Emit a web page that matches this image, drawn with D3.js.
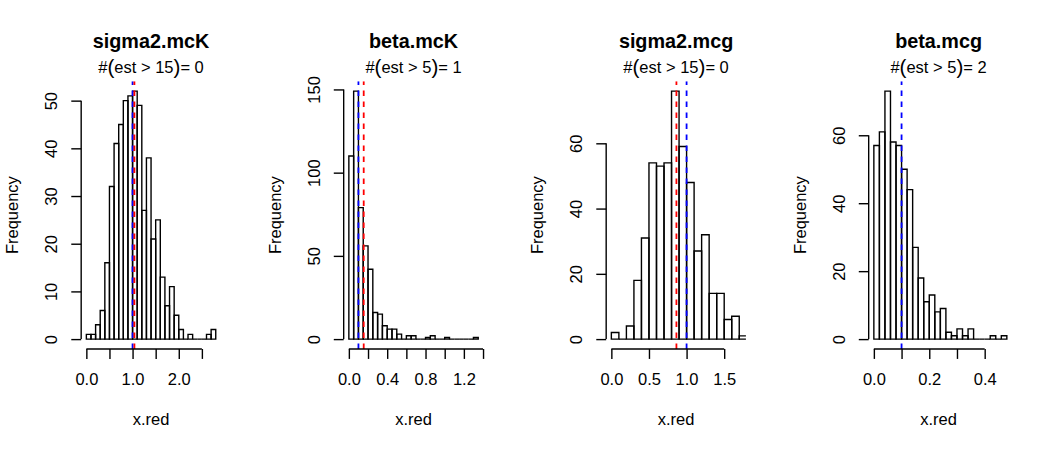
<!DOCTYPE html>
<html>
<head>
<meta charset="utf-8">
<script src="https://cdn.jsdelivr.net/npm/d3@7"></script>
<style>
  body { margin: 0; background: #fff; }
  svg { display: block; font-family: "Liberation Sans", Arial, Helvetica, sans-serif; }
</style>
</head>
<body>
<svg id="chart" width="1050" height="450"></svg>
<script>
// histogram panels, left to right
const panelTitles = ["sigma2.mcK", "beta.mcK", "sigma2.mcg", "beta.mcg"];
const thresholds = [15, 5, 15, 5];
const overCounts = [0, 1, 0, 2];

// bin layout (histogram breaks start + width)
const binStarts = [0, 0, 0, 0];
const binWidths = [0.1, 0.05, 0.1, 0.02];

const countsSigmaK = [1, 1, 3, 6, 16, 32, 41, 45, 50, 51, 52, 49, 27, 38, 21, 25, 13, 7, 11, 5, 2, 0, 1, 0, 0, 0, 1, 2];
const countsBetaK = [110, 149, 79, 56, 42, 16, 15, 8, 6, 6, 3, 0, 2, 2, 0, 0, 1, 2, 0, 0, 1, 0, 0, 0, 0, 0, 1];
const countsSigmaG = [2, 0, 4, 18, 31, 54, 53, 54, 76, 59, 48, 27, 32, 14, 14, 6, 7, 1];
const countsBetaG = [57, 61, 73, 58, 57, 50, 44, 27, 18, 11, 13, 8, 9, 2, 1, 3, 1, 3, 0, 0, 0, 1, 0, 1];
const allCounts = [countsSigmaK, countsBetaK, countsSigmaG, countsBetaG];

const xLimits = [[0, 2.8], [0, 1.35], [0, 1.72], [0, 0.467]];
const xTicks = [
  [0, 0.5, 1, 1.5, 2, 2.5],
  [0, 0.2, 0.4, 0.6, 0.8, 1.0, 1.2, 1.4],
  [0, 0.5, 1, 1.5],
  [0, 0.1, 0.2, 0.3, 0.4]
];
const xTickLabels = [
  ["0.0", "", "1.0", "", "2.0", ""],
  ["0.0", "", "0.4", "", "0.8", "", "1.2", ""],
  ["0.0", "0.5", "1.0", "1.5"],
  ["0.0", "", "0.2", "", "0.4"]
];
const yTicks = [
  [0, 10, 20, 30, 40, 50],
  [0, 50, 100, 150],
  [0, 20, 40, 60],
  [0, 20, 40, 60]
];

// reference lines: blue = true value, red = mean estimate
const trueValues = [1.0, 0.1, 1.0, 0.1];
const meanEstimates = [1.04, 0.155, 0.865, null];

const W = 1050, H = 450;
const panelW = W / 4;
const lh = 19.8;              // one margin line in px
const fs = 16.5;              // base font size
const m = { top: 4.1 * lh, right: 2.1 * lh, bottom: 5.1 * lh, left: 4.1 * lh };
const tickLen = 0.5 * lh;

const svg = d3.select("#chart");

panelTitles.forEach((title, i) => {
  const g = svg.append("g").attr("transform", `translate(${i * panelW},0)`);
  const left = m.left, right = panelW - m.right;
  const top = m.top, bottom = H - m.bottom;
  const cx = (left + right) / 2;

  const [lo, hi] = xLimits[i];
  const x = d3.scaleLinear()
    .domain([lo - 0.04 * (hi - lo), hi + 0.04 * (hi - lo)])
    .range([left, right]);
  const counts = allCounts[i];
  const ymax = d3.max(counts);
  const y = d3.scaleLinear()
    .domain([-0.04 * ymax, ymax * 1.04])
    .range([bottom, top]);

  const clipId = "clip" + i;
  g.append("clipPath").attr("id", clipId)
    .append("rect")
    .attr("x", left).attr("y", top)
    .attr("width", right - left).attr("height", bottom - top);

  const plot = g.append("g").attr("clip-path", `url(#${clipId})`);

  // bars (paths so zero-count bins still show the base line)
  plot.selectAll("path.bar")
    .data(counts)
    .enter().append("path")
    .attr("class", "bar")
    .attr("d", (c, k) => {
      const x0 = x(binStarts[i] + k * binWidths[i]);
      const x1 = x(binStarts[i] + (k + 1) * binWidths[i]);
      return `M${x0},${y(0)}H${x1}V${y(c)}H${x0}Z`;
    })
    .attr("fill", "none")
    .attr("stroke", "#000")
    .attr("stroke-width", 1.4);

  // dashed reference lines
  const lines = [];
  if (meanEstimates[i] !== null) lines.push({ v: meanEstimates[i], col: "#ff0000" });
  lines.push({ v: trueValues[i], col: "#0000ff" });
  if (i === 0) lines.reverse();
  plot.selectAll("line.ref")
    .data(lines)
    .enter().append("line")
    .attr("class", "ref")
    .attr("x1", d => x(d.v)).attr("x2", d => x(d.v))
    .attr("y1", bottom).attr("y2", top)
    .attr("stroke", d => d.col)
    .attr("stroke-width", 1.8)
    .attr("stroke-dasharray", "5.5,5.5");

  // x axis
  const xt = xTicks[i];
  const gx = g.append("g")
    .attr("transform", `translate(0,${bottom})`)
    .call(d3.axisBottom(x).tickValues(xt)
      .tickFormat((d, k) => xTickLabels[i][k])
      .tickSize(tickLen).tickSizeOuter(0));
  gx.select(".domain").attr("d", `M${x(xt[0])},0H${x(xt[xt.length - 1])}`);
  gx.selectAll("line, .domain").attr("stroke", "#000").attr("stroke-width", 1.4);
  gx.selectAll("text")
    .attr("y", 36.2).attr("dy", null)
    .attr("fill", "#000")
    .style("font-size", fs + "px")
    .style("font-family", "Liberation Sans, Arial, sans-serif");

  // y axis
  const yt = yTicks[i];
  const gy = g.append("g")
    .attr("transform", `translate(${left},0)`)
    .call(d3.axisLeft(y).tickValues(yt).tickSize(tickLen).tickSizeOuter(0));
  gy.select(".domain").attr("d", `M0,${y(yt[0])}V${y(yt[yt.length - 1])}`);
  gy.selectAll("line, .domain").attr("stroke", "#000").attr("stroke-width", 1.4);
  gy.selectAll("text")
    .attr("transform", "rotate(-90)")
    .attr("x", 0).attr("y", -23.7).attr("dy", null)
    .attr("text-anchor", "middle")
    .attr("fill", "#000")
    .style("font-size", fs + "px")
    .style("font-family", "Liberation Sans, Arial, sans-serif");

  // titles and labels
  g.append("text")
    .attr("x", cx).attr("y", 48.3)
    .attr("text-anchor", "middle")
    .style("font-size", (fs * 1.2) + "px")
    .style("font-weight", "bold")
    .text(title);

  const sub = g.append("text")
    .attr("x", cx).attr("y", 72.7)
    .attr("text-anchor", "middle")
    .style("font-size", fs + "px");
  sub.append("tspan").text("#");
  sub.append("tspan").style("font-size", (fs * 1.25) + "px").attr("dy", 1).text("(");
  sub.append("tspan").attr("dy", -1).text("est > " + thresholds[i]);
  sub.append("tspan").style("font-size", (fs * 1.25) + "px").attr("dy", 1).text(")");
  sub.append("tspan").attr("dy", -1).text("= " + overCounts[i]);

  g.append("text")
    .attr("x", cx).attr("y", bottom + 75.7)
    .attr("text-anchor", "middle")
    .style("font-size", fs + "px")
    .text("x.red");

  g.append("text")
    .attr("transform", `translate(${left - 62.7},${(top + bottom) / 2}) rotate(-90)`)
    .attr("text-anchor", "middle")
    .style("font-size", fs + "px")
    .text("Frequency");
});
</script>
</body>
</html>
